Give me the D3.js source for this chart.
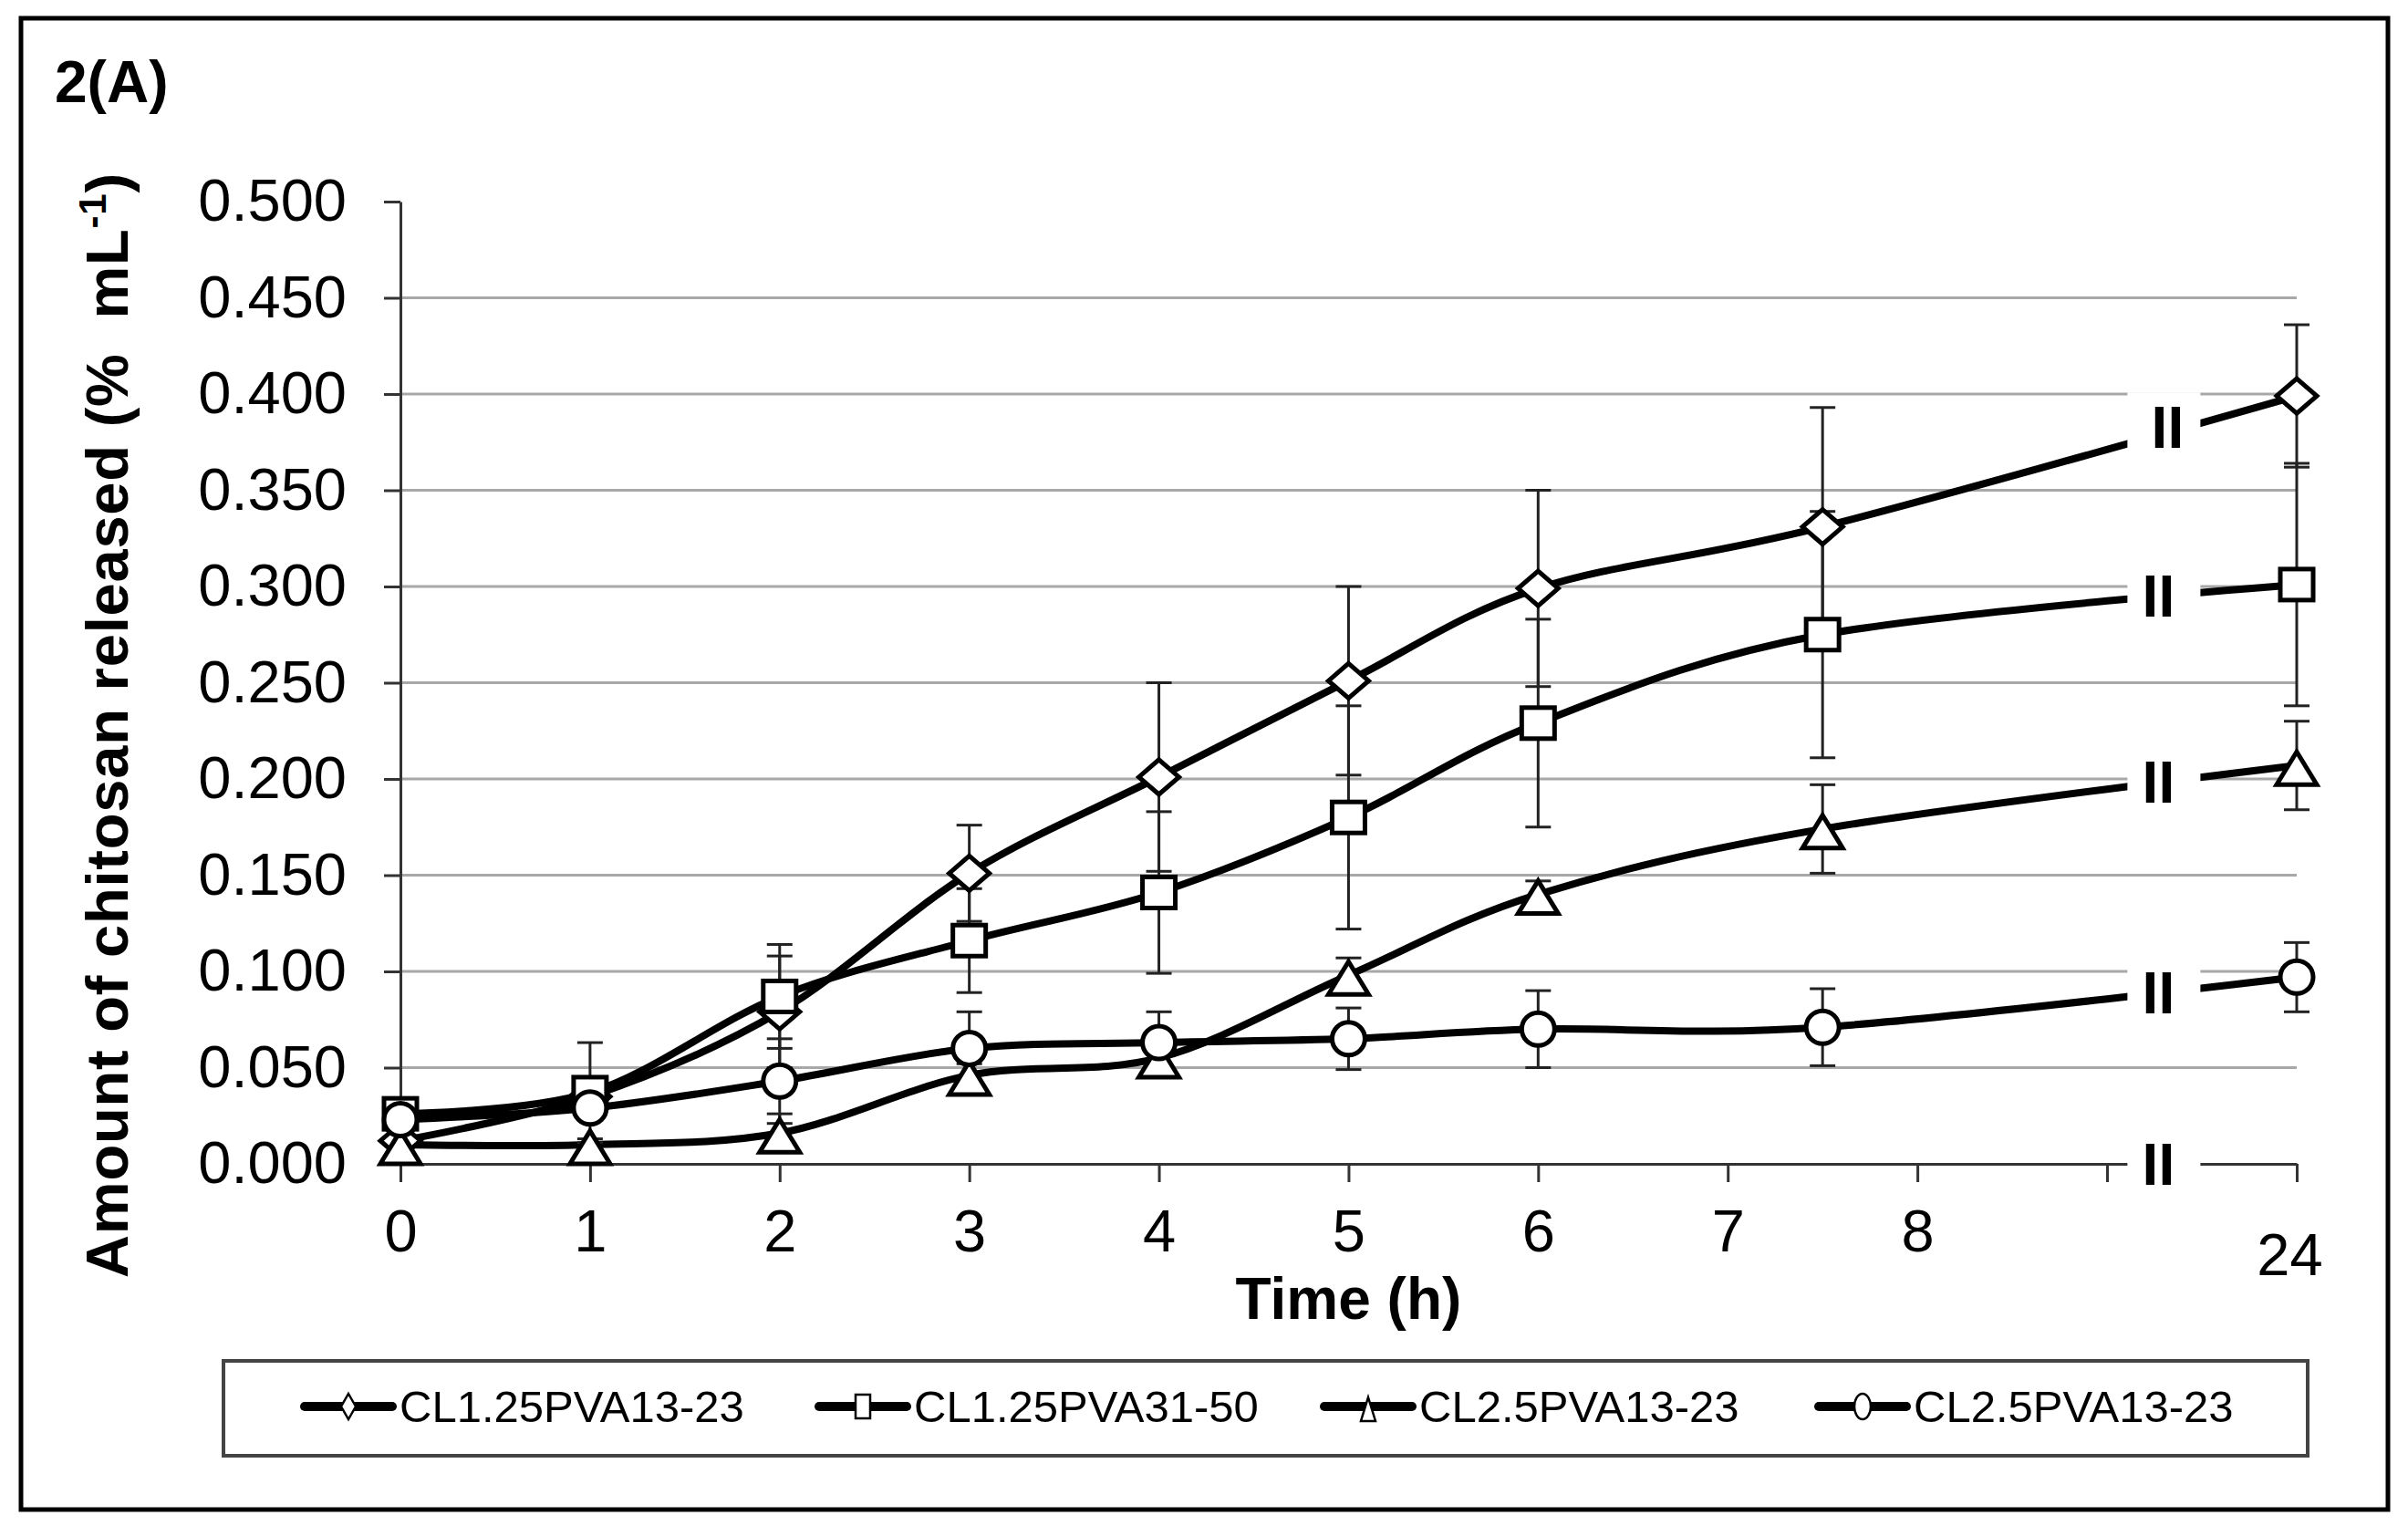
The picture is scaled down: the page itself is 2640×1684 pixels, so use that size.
<!DOCTYPE html>
<html>
<head>
<meta charset="utf-8">
<script src="https://cdn.jsdelivr.net/npm/d3@7"></script>
<style>
  html, body { margin: 0; padding: 0; background: #fff; }
  svg text { font-family: "Liberation Sans", Arial, sans-serif; }
</style>
</head>
<body>
<svg id="chart" width="2640" height="1684"></svg>
<script>
// data
var timeH = [0, 1, 2, 3, 4, 5, 6, 7.5, 24];

var seriesNames = ['CL1.25PVA13-23', 'CL1.25PVA31-50', 'CL2.5PVA13-23', 'CL2.5PVA13-23'];
var seriesShapes = ['diamond', 'square', 'triangle', 'circle'];

var diamondVals = [0.012, 0.035, 0.079, 0.151, 0.201, 0.251, 0.299, 0.331, 0.399];
var diamondErr  = [0.003, 0.008, 0.029, 0.025, 0.049, 0.049, 0.051, 0.062, 0.037];
var squareVals  = [0.026, 0.037, 0.087, 0.116, 0.141, 0.180, 0.229, 0.275, 0.301];
var squareErr   = [0.004, 0.026, 0.027, 0.027, 0.042, 0.058, 0.054, 0.064, 0.063];
var triVals     = [0.010, 0.010, 0.016, 0.046, 0.055, 0.098, 0.140, 0.174, 0.207];
var triErr      = [0.002, 0.003, 0.010, 0.006, 0.004, 0.009, 0.007, 0.023, 0.023];
var circleVals  = [0.023, 0.029, 0.043, 0.060, 0.063, 0.065, 0.070, 0.071, 0.097];
var circleErr   = [0.003, 0.005, 0.022, 0.019, 0.016, 0.016, 0.020, 0.020, 0.018];

var xTickValues = [0, 1, 2, 3, 4, 5, 6, 7, 8, 9, 24];
var xTickLabels = ['0', '1', '2', '3', '4', '5', '6', '7', '8', '', '24'];
var yTickValues = [0, 0.05, 0.10, 0.15, 0.20, 0.25, 0.30, 0.35, 0.40, 0.45, 0.50];

var series = [
  {name: seriesNames[0], shape: seriesShapes[0], vals: diamondVals, err: diamondErr},
  {name: seriesNames[1], shape: seriesShapes[1], vals: squareVals, err: squareErr},
  {name: seriesNames[2], shape: seriesShapes[2], vals: triVals, err: triErr},
  {name: seriesNames[3], shape: seriesShapes[3], vals: circleVals, err: circleErr}
];

var svg = d3.select('#chart');

// broken time axis: 0..9 linear, then jump to 24
var x = d3.scaleLinear().domain([0, 9, 24]).range([439, 2310, 2518]);
var y = d3.scaleLinear().domain([0, 0.5]).range([1276, 221]);

// outer frame
svg.append('rect')
  .attr('x', 23).attr('y', 20).attr('width', 2595).attr('height', 1635)
  .attr('fill', 'none').attr('stroke', '#000').attr('stroke-width', 5);

svg.append('text')
  .attr('x', 60).attr('y', 112)
  .attr('font-size', 64).attr('font-weight', 'bold')
  .text('2(A)');

// gridlines
svg.append('g')
  .selectAll('line.grid')
  .data(yTickValues.filter(function(d) { return d > 0 && d < 0.5; }))
  .enter()
    .append('line')
    .attr('x1', x(0)).attr('x2', x(24))
    .attr('y1', function(d) { return y(d); })
    .attr('y2', function(d) { return y(d); })
    .attr('stroke', '#a8a8a8').attr('stroke-width', 3);

// axes
var yAxis = svg.append('g')
  .attr('transform', 'translate(' + x(0) + ',0)')
  .call(d3.axisLeft(y).tickValues(yTickValues).tickFormat(d3.format('.3f'))
    .tickSize(18).tickSizeOuter(0).tickPadding(41));

var xAxis = svg.append('g')
  .attr('transform', 'translate(0,' + y(0) + ')')
  .call(d3.axisBottom(x).tickValues(xTickValues)
    .tickFormat(function(d, i) { return xTickLabels[i]; })
    .tickSize(20).tickSizeOuter(0).tickPadding(30));

[yAxis, xAxis].forEach(function(g) {
  g.select('.domain').attr('stroke', '#333').attr('stroke-width', 3);
  g.selectAll('.tick line').attr('stroke', '#333').attr('stroke-width', 3);
  g.selectAll('.tick text')
    .attr('font-size', 65).attr('fill', '#000')
    .attr('font-family', '"Liberation Sans", Arial, sans-serif');
});
xAxis.selectAll('.tick text').filter(function(d) { return d === 24; })
  .attr('dy', '1.11em').attr('dx', -8);

// axis titles
svg.append('text')
  .attr('x', x(5)).attr('y', 1446)
  .attr('text-anchor', 'middle')
  .attr('font-size', 64).attr('font-weight', 'bold')
  .text('Time (h)');

var yTitle = svg.append('text')
  .attr('transform', 'translate(140,795) rotate(-90)')
  .attr('text-anchor', 'middle')
  .attr('font-size', 65).attr('font-weight', 'bold')
  .attr('letter-spacing', 0.8)
  .style('white-space', 'pre');
yTitle.append('tspan').text('Amount of chitosan released (%  mL');
yTitle.append('tspan').attr('dy', -24).attr('font-size', 42).text('-1');
yTitle.append('tspan').attr('dy', 24).text(')');

// series lines
var line = d3.line()
  .x(function(d) { return x(d.t); })
  .y(function(d) { return y(d.v); })
  .curve(d3.curveCatmullRom.alpha(0));

series.forEach(function(s) {
  s.points = timeH.map(function(t, i) { return {t: t, v: s.vals[i], e: s.err[i]}; });
});

var paths = svg.append('g')
  .selectAll('path.series')
  .data(series)
  .enter()
    .append('path')
    .attr('d', function(d) { return line(d.points); })
    .attr('fill', 'none').attr('stroke', '#000').attr('stroke-width', 8)
    .attr('stroke-linejoin', 'round');

// axis break marks
var breakX = x(9) + 0.3 * (x(24) - x(9));
function yAtX(node, xt) {
  var lo = 0, hi = node.getTotalLength();
  for (var k = 0; k < 40; k++) {
    var mid = (lo + hi) / 2;
    if (node.getPointAtLength(mid).x < xt) lo = mid; else hi = mid;
  }
  return node.getPointAtLength(lo).y;
}
var breakYs = [];
paths.each(function() { breakYs.push(yAtX(this, breakX)); });
breakYs.push(y(0));

var breaks = svg.append('g');
breaks.selectAll('rect')
  .data(breakYs)
  .enter()
    .append('rect')
    .attr('x', breakX - 40).attr('width', 80)
    .attr('y', function(d) { return d - 45; }).attr('height', 90)
    .attr('fill', '#fff');
breaks.selectAll('text')
  .data(breakYs)
  .enter()
    .append('text')
    .attr('x', function(d, i) { return i === 0 ? breakX + 4 : breakX - 6; })
    .attr('y', function(d, i) { return i === 0 ? d + 16 : d + 23; })
    .attr('text-anchor', 'middle')
    .attr('font-size', 64).attr('font-weight', 'bold')
    .text('II');

// error bars
var eg = svg.append('g').attr('stroke', '#222').attr('stroke-width', 3);
series.forEach(function(s) {
  s.points.forEach(function(p) {
    var cx = x(p.t), yh = y(p.v + p.e), yl = y(p.v - p.e);
    eg.append('line').attr('x1', cx).attr('x2', cx).attr('y1', yh).attr('y2', yl);
    eg.append('line').attr('x1', cx - 14).attr('x2', cx + 14).attr('y1', yh).attr('y2', yh);
    eg.append('line').attr('x1', cx - 14).attr('x2', cx + 14).attr('y1', yl).attr('y2', yl);
  });
});

// markers
function marker(g, shape, cx, cy, w, h, sw) {
  var m;
  if (shape === 'diamond') {
    m = g.append('path').attr('d', 'M' + cx + ',' + (cy - h) + 'L' + (cx + w) + ',' + cy +
      'L' + cx + ',' + (cy + h) + 'L' + (cx - w) + ',' + cy + 'Z');
  } else if (shape === 'square') {
    m = g.append('rect').attr('x', cx - w).attr('y', cy - h).attr('width', 2 * w).attr('height', 2 * h);
  } else if (shape === 'triangle') {
    m = g.append('path').attr('d', 'M' + cx + ',' + (cy - h + 3) + 'L' + (cx + w) + ',' + (cy + h + 3) +
      'L' + (cx - w) + ',' + (cy + h + 3) + 'Z');
  } else {
    m = g.append('ellipse').attr('cx', cx).attr('cy', cy).attr('rx', w).attr('ry', h);
  }
  m.attr('fill', '#fff').attr('stroke', '#000').attr('stroke-width', sw).attr('stroke-linejoin', 'miter');
}
var mg = svg.append('g');
var markerSize = {diamond: [22, 19], square: [18, 17], triangle: [22, 18], circle: [18, 18]};
series.forEach(function(s) {
  s.points.forEach(function(p) {
    var sz = markerSize[s.shape];
    marker(mg, s.shape, x(p.t), y(p.v), sz[0], sz[1], 5);
  });
});

// legend
svg.append('rect')
  .attr('x', 245).attr('y', 1492).attr('width', 2285).attr('height', 104)
  .attr('fill', '#fff').attr('stroke', '#444').attr('stroke-width', 4);

var legendTextX = [438, 1002, 1556, 2098];
var legendSize = {diamond: [8, 14], square: [8, 13], triangle: [8, 13], circle: [9, 14]};
var lg = svg.append('g');
series.forEach(function(s, i) {
  var tx = legendTextX[i], ly = 1542;
  lg.append('line')
    .attr('x1', tx - 104).attr('x2', tx - 8).attr('y1', ly).attr('y2', ly)
    .attr('stroke', '#000').attr('stroke-width', 10).attr('stroke-linecap', 'round');
  var sz = legendSize[s.shape];
  marker(lg, s.shape, tx - 56, ly, sz[0], sz[1], 2.5);
  lg.append('text')
    .attr('x', tx).attr('y', 1559)
    .attr('font-size', 49)
    .text(s.name);
});
</script>
</body>
</html>
